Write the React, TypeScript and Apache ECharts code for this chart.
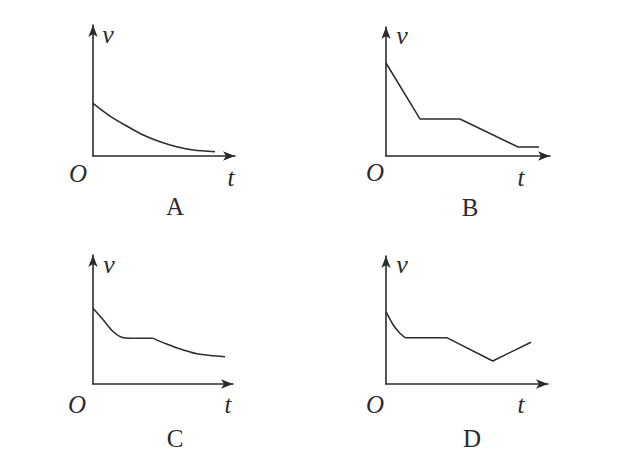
import React, { useEffect, useRef } from "react";
import * as echarts from "echarts";

// Panel A: smooth exponential-like decay
const aT = [0, 1.2, 2.37, 3.54, 4.72, 5.89, 7.06, 8.59];
const aV = [4.02, 3.05, 2.29, 1.6, 1.09, 0.71, 0.46, 0.33];
// Panel B: straight segments
const bT = [0, 2.07, 4.51, 8.05, 9.33];
const bV = [7.21, 2.87, 2.87, 0.7, 0.7];
// Panel C: curve, plateau, curve
const cCurve1T = [0, 0.74, 1.45, 2.05, 2.88];
const cCurve1V = [5.87, 4.96, 4.05, 3.62, 3.54];
const cFlatT = [2.88, 4.31];
const cFlatV = [3.54, 3.54];
const cCurve2T = [4.31, 5.26, 6.45, 7.64, 9.43];
const cCurve2V = [3.54, 3.1, 2.64, 2.3, 2.12];
// Panel D: curve, then straight segments
const dCurveT = [0, 0.45, 0.86, 1.17];
const dCurveV = [5.65, 4.61, 3.96, 3.62];
const dLineT = [1.17, 3.75, 6.59, 8.95];
const dLineV = [3.62, 3.62, 1.8, 3.26];

const panelLetters = ["A", "B", "C", "D"];

const zip = (t: number[], v: number[]) => t.map((x, i) => [x, v[i]]);

const INK = "#2b2b2b";

export default function App() {
  const ref = useRef<HTMLDivElement>(null);
  useEffect(() => {
    if (!ref.current) return;
    const chart = echarts.init(ref.current, undefined, { renderer: "svg" });
    const grids = [
      { left: 93, top: 25, width: 142, height: 131 },
      { left: 386, top: 27, width: 164, height: 129 },
      { left: 93, top: 255, width: 140, height: 129 },
      { left: 386, top: 256, width: 162, height: 128 },
    ];
    const axisLine = {
      show: true,
      onZero: false,
      symbol: ["none", "arrow"],
      symbolSize: [7, 12],
      lineStyle: { color: INK, width: 1.6 },
    };
    const xAxis = grids.map((_, i) => ({
      type: "value",
      gridIndex: i,
      min: 0,
      max: 10,
      axisLine,
      axisTick: { show: false },
      axisLabel: { show: false },
      splitLine: { show: false },
    }));
    const yAxis = grids.map((_, i) => ({
      type: "value",
      gridIndex: i,
      min: 0,
      max: 10,
      axisLine,
      axisTick: { show: false },
      axisLabel: { show: false },
      splitLine: { show: false },
    }));
    const lineStyle = { color: INK, width: 1.5 };
    const base = { type: "line", showSymbol: false, symbol: "none", lineStyle, silent: true };
    const series = [
      { ...base, xAxisIndex: 0, yAxisIndex: 0, smooth: 0.3, data: zip(aT, aV) },
      { ...base, xAxisIndex: 1, yAxisIndex: 1, smooth: false, data: zip(bT, bV) },
      { ...base, xAxisIndex: 2, yAxisIndex: 2, smooth: 0.3, data: zip(cCurve1T, cCurve1V) },
      { ...base, xAxisIndex: 2, yAxisIndex: 2, smooth: false, data: zip(cFlatT, cFlatV) },
      { ...base, xAxisIndex: 2, yAxisIndex: 2, smooth: 0.3, data: zip(cCurve2T, cCurve2V) },
      { ...base, xAxisIndex: 3, yAxisIndex: 3, smooth: 0.3, data: zip(dCurveT, dCurveV) },
      { ...base, xAxisIndex: 3, yAxisIndex: 3, smooth: false, data: zip(dLineT, dLineV) },
    ];
    const labelPos = [
      { v: [108, 34], o: [78, 173], t: [231, 177], l: [175, 206] },
      { v: [402, 35], o: [375, 172], t: [521, 177], l: [470, 207] },
      { v: [109, 264], o: [77, 404], t: [228, 404], l: [175, 438] },
      { v: [402, 264], o: [375, 404], t: [521, 404], l: [472, 438] },
    ];
    const txt = (s: string, p: number[], italic: boolean, size: number) => ({
      type: "text",
      x: p[0],
      y: p[1],
      style: {
        text: s,
        fill: INK,
        font: `${italic ? "italic " : ""}${size}px "Liberation Serif", "DejaVu Serif", serif`,
        textAlign: "center",
        textVerticalAlign: "middle",
      },
      silent: true,
    });
    const graphic: any[] = [];
    labelPos.forEach((p, i) => {
      graphic.push(txt("v", p.v, true, 26));
      graphic.push(txt("O", p.o, true, 25));
      graphic.push(txt("t", p.t, true, 25));
      graphic.push(txt(panelLetters[i], p.l, false, 25));
    });
    chart.setOption({
      animation: false,
      backgroundColor: "#ffffff",
      grid: grids,
      xAxis,
      yAxis,
      series,
      graphic,
    });
    return () => chart.dispose();
  }, []);
  return (
    <div
      ref={ref}
      style={{ position: "fixed", left: 0, top: 0, width: 619, height: 461 }}
    />
  );
}
